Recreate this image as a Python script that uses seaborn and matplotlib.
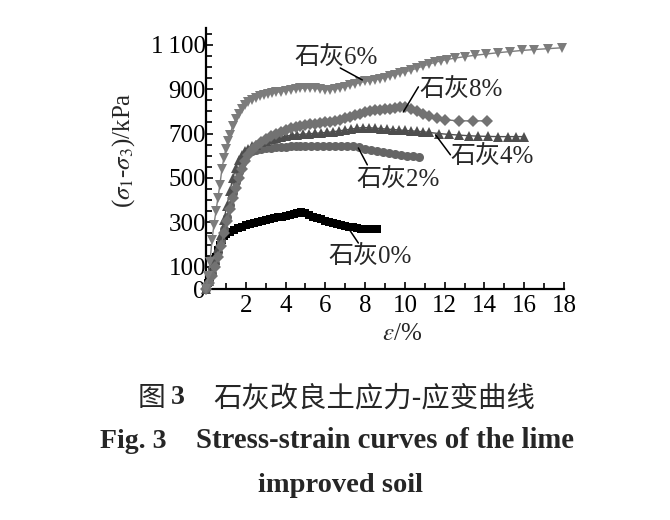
import matplotlib
matplotlib.use("Agg")
import matplotlib.pyplot as plt
import seaborn as sns
from matplotlib.ticker import FixedLocator, FixedFormatter, MultipleLocator

# ---------------- data ----------------
eps_0 = [0, 0.1, 0.2, 0.3, 0.4, 0.5, 0.6, 0.7, 0.8, 0.9, 1.0,
         1.2, 1.4, 1.6, 1.8, 2.0, 2.2, 2.4, 2.6, 2.8, 3.0,
         3.2, 3.4, 3.6, 3.8, 4.0, 4.2, 4.4, 4.6, 4.8,
         5.0, 5.2, 5.4, 5.6, 5.8, 6.0, 6.2, 6.4, 6.6, 6.8,
         7.0, 7.2, 7.4, 7.6, 7.8, 8.0, 8.2, 8.4, 8.6]
sig_0 = [0, 25, 55, 85, 115, 145, 175, 200, 222, 238, 248,
         258, 266, 274, 281, 288, 293, 298, 303, 307, 310,
         314, 318, 322, 326, 330, 334, 338, 342, 346,
         340, 333, 326, 320, 314, 308, 302, 297, 292, 288,
         284, 280, 277, 274, 272, 270, 269, 269, 269]

eps_2 = [0, 0.15, 0.3, 0.45, 0.6, 0.75, 0.9, 1.05, 1.2, 1.35, 1.5, 1.65, 1.8, 1.95, 2.1,
         2.3, 2.5, 2.75, 3.0, 3.25, 3.5, 3.75, 4.0, 4.25, 4.5, 4.75, 5.0,
         5.3, 5.6, 5.9, 6.2, 6.5, 6.8, 7.1, 7.4, 7.7, 8.0, 8.3, 8.6, 8.9,
         9.2, 9.5, 9.8, 10.1, 10.4, 10.7]
sig_2 = [0, 30, 70, 115, 165, 215, 270, 325, 380, 430, 480, 525, 565, 595, 612,
         620, 626, 630, 633, 636, 638, 640, 641, 642, 643, 643, 644,
         644, 644, 644, 644, 644, 644, 643, 642, 638, 632, 626, 621, 617,
         613, 609, 605, 601, 598, 595]

eps_4 = [0, 0.15, 0.3, 0.45, 0.6, 0.75, 0.9, 1.05, 1.2, 1.35, 1.5, 1.65, 1.8, 1.95, 2.1,
         2.3, 2.5,
         2.75, 3.0, 3.25, 3.5, 3.75, 4.0,
         4.3, 4.6, 4.9, 5.2, 5.5, 5.8, 6.1, 6.4, 6.7, 7.0, 7.3, 7.6, 7.9, 8.2,
         8.5, 8.8, 9.1, 9.4, 9.7, 10.0, 10.3, 10.6, 10.9, 11.2,
         11.7, 12.2, 12.7, 13.2, 13.7, 14.2, 14.7, 15.2,
         15.6, 16.0]
sig_4 = [0, 35, 80, 130, 185, 245, 310, 375, 440, 500, 545, 580, 605, 620, 632,
         642, 650,
         660, 668, 674, 680, 684, 688,
         692, 695, 697, 699, 701, 703, 705, 708, 712, 716, 720, 724, 727, 726,
         724, 722, 720, 718, 716, 714, 712, 710, 708, 705,
         700, 696, 693, 690, 688, 687, 686, 686,
         686, 686]

eps_6 = [0, 0.1, 0.2, 0.3, 0.4, 0.5, 0.6, 0.7, 0.8, 0.9, 1.0, 1.1, 1.2,
         1.35, 1.5, 1.65, 1.8, 1.95, 2.1,
         2.3, 2.5, 2.7, 2.9, 3.1, 3.3, 3.5,
         3.75, 4.0, 4.25, 4.5, 4.75, 5.0, 5.25, 5.5, 5.75, 6.0, 6.25, 6.5, 6.75,
         7.0, 7.25, 7.5, 7.75, 8.0, 8.25, 8.5, 8.75, 9.0, 9.25, 9.5, 9.75, 10.0,
         10.3, 10.6, 10.9, 11.2, 11.5, 11.8, 12.1,
         12.5, 13.0, 13.5,
         14.1, 14.7, 15.3, 15.9, 16.5,
         17.2, 17.9]
sig_6 = [0, 60, 120, 220, 290, 350, 410, 470, 540, 590, 630, 665, 695,
         735, 765, 790, 810, 828, 842,
         853, 862, 868, 873, 877, 881, 885,
         889, 893, 897, 900, 903, 905, 905, 903, 900, 898, 898, 900, 905,
         911, 917, 923, 930, 935, 938, 942, 947, 952, 958, 965, 971, 977,
         985, 994, 1003, 1012, 1020, 1027, 1033,
         1039, 1046, 1052,
         1058, 1064, 1069, 1074, 1078,
         1082, 1086]

eps_8 = [0, 0.15, 0.3, 0.45, 0.6, 0.75, 0.9, 1.05, 1.2, 1.35, 1.5, 1.65, 1.8, 1.95, 2.1,
         2.3, 2.5,
         2.75, 3.0, 3.25, 3.5, 3.75, 4.0, 4.25, 4.5, 4.75, 5.0, 5.25, 5.5, 5.75, 6.0,
         6.25, 6.5, 6.75, 7.0, 7.25, 7.5, 7.75, 8.0, 8.25, 8.5, 8.75, 9.0, 9.25, 9.5,
         9.75, 10.0,
         10.3, 10.6, 10.9, 11.2,
         11.6, 12.0, 12.7, 13.4, 14.15]
sig_8 = [0, 25, 60, 100, 145, 195, 250, 305, 360, 410, 455, 500, 540, 575, 605,
         628, 645,
         662, 676, 688, 699, 709, 717, 723, 728, 733, 737, 741, 745, 748, 750,
         753, 757, 762, 768, 775, 782, 790, 797, 802, 805, 808, 810, 812, 815,
         818, 818,
         810, 800, 790, 780,
         770, 762, 757, 757, 757]

series_labels = ["石灰0%", "石灰2%", "石灰4%", "石灰8%", "石灰6%"]
x_ticks = [2, 4, 6, 8, 10, 12, 14, 16, 18]
x_tick_labels = ["2", "4", "6", "8", "10", "12", "14", "16", "18"]
y_ticks = [0, 100, 300, 500, 700, 900, 1100]
y_tick_labels = ["0", "100", "300", "500", "700", "900", "1\u2009100"]

# ---------------- style ----------------
sns.set_style("ticks")
plt.rcParams["font.family"] = ["Liberation Serif", "Noto Sans CJK SC", "DejaVu Sans"]
plt.rcParams["mathtext.fontset"] = "stix"

fig = plt.figure(figsize=(6.7, 5.2), dpi=100)
ax = fig.add_axes([206 / 670, 1 - 289 / 520, 358 / 670, 261 / 520])

specs = [
    (eps_0, sig_0, "s", "#000000", 6.0),
    (eps_2, sig_2, "o", "#656565", 6.5),
    (eps_4, sig_4, "^", "#4e4e4e", 7.0),
    (eps_8, sig_8, "D", "#727272", 6.0),
    (eps_6, sig_6, "v", "#7c7c7c", 7.0),
]
for (ex, sy, mk, col, ms) in specs:
    sns.lineplot(x=ex, y=sy, ax=ax, color=col, marker=mk, markersize=ms,
                 markeredgewidth=0, linewidth=1.0, sort=False, clip_on=False,
                 zorder=3)

ax.set_xlim(0, 18)
ax.set_ylim(0, 1175)

ax.xaxis.set_major_locator(FixedLocator(x_ticks))
ax.xaxis.set_major_formatter(FixedFormatter(x_tick_labels))
ax.xaxis.set_minor_locator(MultipleLocator(1))
ax.yaxis.set_major_locator(FixedLocator(y_ticks))
ax.yaxis.set_major_formatter(FixedFormatter(y_tick_labels))
ax.yaxis.set_minor_locator(MultipleLocator(50))

ax.tick_params(axis="both", which="both", direction="in", width=1.2, colors="black")
ax.tick_params(axis="both", which="major", length=5)
ax.tick_params(axis="both", which="minor", length=4.5)
ax.tick_params(axis="x", which="major", labelsize=18, pad=4)
ax.tick_params(axis="y", which="major", labelsize=18, pad=0)
for lab in ax.get_xticklabels() + ax.get_yticklabels():
    lab.set_family("Liberation Serif")

for side in ("top", "right"):
    ax.spines[side].set_visible(False)
for side in ("left", "bottom"):
    ax.spines[side].set_linewidth(1.6)
    ax.spines[side].set_color("black")

# axis labels
fig.text(124 / 670, 1 - 150 / 520, r"($\sigma_1$-$\sigma_3$)/kPa", rotation=90,
         ha="center", va="center", fontsize=18, family="Liberation Serif")
fig.text(402 / 670, 1 - 334 / 520, r"$\varepsilon$/%", ha="center", va="center",
         fontsize=18, family="Liberation Serif")

# curve annotations: (text, text position, line start, line end)
ann = [
    ("石灰6%", (6.55, 1040), (6.75, 995), (7.86, 941)),
    ("石灰8%", (12.85, 893), (10.68, 910), (9.92, 797)),
    ("石灰4%", (14.4, 592), (11.54, 694), (12.29, 604)),
    ("石灰2%", (9.67, 488), (7.66, 635), (8.11, 559)),
    ("石灰0%", (8.26, 141), (7.15, 275), (7.66, 207)),
]
for txt, tpos, p0, p1 in ann:
    ax.text(tpos[0], tpos[1], txt, ha="center", va="center", fontsize=18,
            family=["Liberation Serif", "Noto Sans CJK SC"], zorder=5)
    ax.plot([p0[0], p1[0]], [p0[1], p1[1]], color="black", lw=1.1, zorder=5,
            clip_on=False)

# captions
fig.text(151 / 670, 1 - 398 / 520, "图", ha="center", va="center", fontsize=20,
         family="Noto Sans CJK SC")
fig.text(178 / 670, 1 - 398 / 520, "3", ha="center", va="center", fontsize=20,
         family="Liberation Serif", weight="bold")
fig.text(213 / 670, 1 - 398 / 520, "石灰改良土应力-应变曲线", ha="left", va="center",
         fontsize=20.4, family="Noto Sans CJK SC")
fig.text(100 / 670, 1 - 441 / 520, "Fig. 3", ha="left", va="center", fontsize=20,
         family="Liberation Serif", weight="bold")
fig.text(574 / 670, 1 - 441 / 520, "Stress-strain curves of the lime", ha="right",
         va="center", fontsize=20.7, family="Liberation Serif", weight="bold")
fig.text(340 / 670, 1 - 485 / 520, "improved soil", ha="center", va="center",
         fontsize=20.5, family="Liberation Serif", weight="bold")

fig.savefig("out.png", dpi=100)
